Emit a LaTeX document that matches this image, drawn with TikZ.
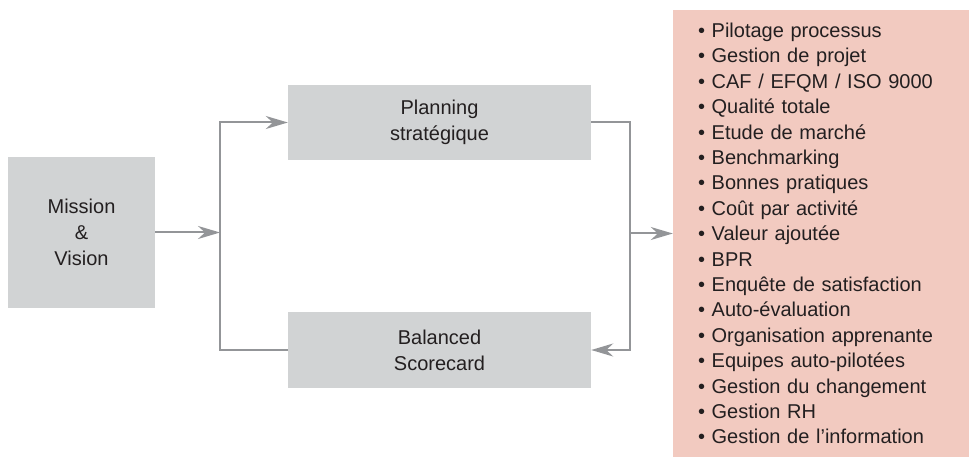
\documentclass[tikz,border=0pt]{standalone}
\usepackage{fontspec}
\setmainfont{Liberation Sans}
\usepackage{xcolor}
\usetikzlibrary{arrows.meta,positioning,calc}
\definecolor{boxgray}{HTML}{D1D3D4}
\definecolor{listpink}{HTML}{F2CAC0}
\definecolor{linegray}{HTML}{939598}
\definecolor{inkgray}{HTML}{231F20}

\begin{document}
\begin{tikzpicture}[x=1pt,y=-1pt,
    every node/.style={text=inkgray,font=\fontsize{20}{26}\selectfont},
    block/.style={fill=boxgray,align=center,inner sep=0pt},
    flow/.style={draw=linegray,line width=2pt,-{Stealth[length=22pt,width=13pt,inset=7pt]}}]
  \useasboundingbox (0,0) rectangle (969,457);
  \node[block,minimum width=147pt,minimum height=151pt] (mission) at (81.5,232.5)
    {Mission\\ \&\\ Vision};
  \node[block,minimum width=303pt,minimum height=75pt] (planning) at (439.5,122.5)
    {Planning\\ stratégique};
  \node[block,minimum width=303pt,minimum height=76pt] (balanced) at (439.5,350)
    {Balanced\\ Scorecard};
  \node[fill=listpink,minimum height=447pt,text width=246pt,inner xsep=25pt,inner ysep=0pt,
    align=left,font=\fontsize{20}{25.4}\selectfont] (tools) at (821,233.5)
    {• Pilotage processus\\
     • Gestion de projet\\
     • CAF / EFQM / ISO 9000\\
     • Qualité totale\\
     • Etude de marché\\
     • Benchmarking\\
     • Bonnes pratiques\\
     • Coût par activité\\
     • Valeur ajoutée\\
     • BPR\\
     • Enquête de satisfaction\\
     • Auto-évaluation\\
     • Organisation apprenante\\
     • Equipes auto-pilotées\\
     • Gestion du changement\\
     • Gestion RH\\
     • Gestion de l’information};
  % the two branches
  \coordinate (splitL) at (220,232.5);
  \coordinate (splitR) at (630,233.5);
  \draw[flow] (mission.east) -- (splitL);
  \draw[flow] (balanced.west) -| (splitL) |- (planning.west);
  \draw[flow] (planning.east) -| (splitR) |- (balanced.east);
  \draw[flow] (splitR) -- (tools.west);
\end{tikzpicture}
\end{document}
